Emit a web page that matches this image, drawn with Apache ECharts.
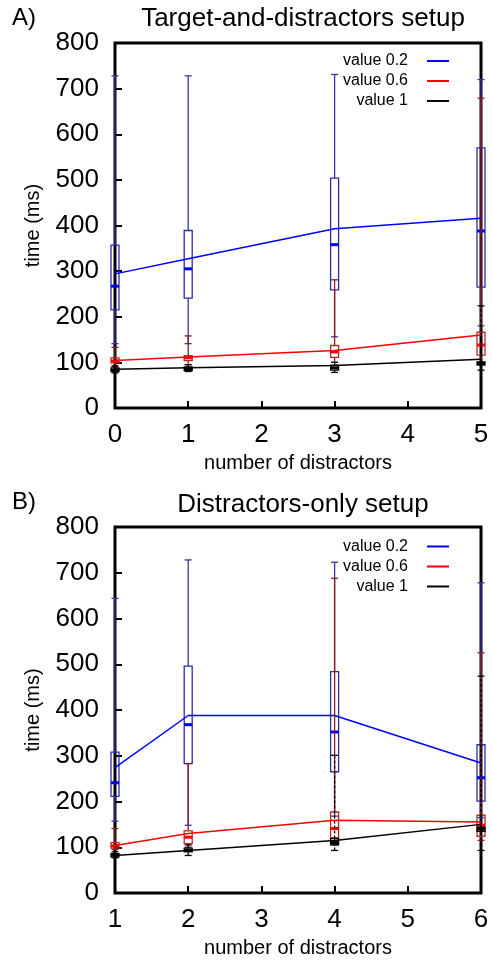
<!DOCTYPE html>
<html>
<head>
<meta charset="utf-8">
<script src="https://cdn.jsdelivr.net/npm/echarts@6/dist/echarts.min.js"></script>
<style>html,body{margin:0;padding:0;background:#fff;}#c{width:492px;height:961px;}</style>
</head>
<body>
<div id="c"></div>
<script>
// ---------- Data ----------
const xA = [0, 1, 3, 5];
const xB = [1, 2, 4, 6];
const seriesNames = ['value 0.2', 'value 0.6', 'value 1'];
const yTicks = [0, 100, 200, 300, 400, 500, 600, 700, 800];

// Panel A: Target-and-distractors setup
const blueA_low  = [141, 141, 156, 180];
const blueA_q1   = [215, 241, 259, 265];
const blueA_med  = [267, 305, 358, 388];
const blueA_q3   = [357, 389, 504, 570];
const blueA_high = [728, 728, 731, 720];
const blueA_mean = [294, 327, 393, 416];

const redA_low  = [92, 95, 100, 98];
const redA_q1   = [99, 104, 111, 116];
const redA_med  = [103, 110, 123, 138];
const redA_q3   = [110, 115, 137, 166];
const redA_high = [133, 158, 281, 679];
const redA_mean = [104, 112, 126, 160];

const blackA_low  = [77, 80, 78, 83];
const blackA_q1   = [80, 82, 83, 94];
const blackA_med  = [83, 86, 88, 98];
const blackA_q3   = [88, 90, 94, 101];
const blackA_high = [92, 95, 100, 224];
const blackA_mean = [85, 88, 93, 107];

// Panel B: Distractors-only setup
const blueB_low  = [157, 148, 168, 165];
const blueB_q1   = [211, 283, 265, 201];
const blueB_med  = [241, 368, 352, 252];
const blueB_q3   = [308, 496, 484, 324];
const blueB_high = [644, 728, 723, 678];
const blueB_mean = [274, 388, 388, 284];

const redB_low  = [95, 100, 105, 115];
const redB_q1   = [98, 108, 121, 124];
const redB_med  = [103, 122, 141, 148];
const redB_q3   = [110, 136, 177, 170];
const redB_high = [141, 283, 688, 525];
const redB_mean = [104, 130, 159, 155];

const blackB_low  = [77, 82, 93, 93];
const blackB_q1   = [79, 90, 105, 135];
const blackB_med  = [83, 93, 110, 140];
const blackB_q3   = [86, 98, 119, 144];
const blackB_high = [90, 105, 301, 474];
const blackB_mean = [82, 93, 115, 150];

// ---------- Helpers ----------
const FONT = 'Liberation Sans, Arial, sans-serif';
const styles = {
  blue:  { box: '#2b2bb0', whisker: '#3535a8', median: '#0000ff', mean: '#0000ff', dash: null },
  red:   { box: '#b42828', whisker: '#8e1c1c', median: '#ff0000', mean: '#ff0000', dash: null },
  black: { box: '#000000', whisker: '#000000', median: '#000000', mean: '#000000', dash: [3, 2] }
};

function boxRows(xs, low, q1, med, q3, high) {
  return xs.map((x, i) => [x, low[i], q1[i], med[i], q3[i], high[i]]);
}
function meanRows(xs, mean) {
  return xs.map((x, i) => [x, mean[i]]);
}

function makeRender(st) {
  return function (params, api) {
    const x = api.value(0);
    const pLow = api.coord([x, api.value(1)]);
    const pQ1 = api.coord([x, api.value(2)]);
    const pMed = api.coord([x, api.value(3)]);
    const pQ3 = api.coord([x, api.value(4)]);
    const pHigh = api.coord([x, api.value(5)]);
    const cx = pLow[0];
    const hw = 4, cw = 3.5;
    const wStyle = { stroke: st.whisker, lineWidth: 1.3, lineDash: st.dash };
    const cStyle = { stroke: st.whisker, lineWidth: 1.3 };
    return {
      type: 'group',
      children: [
        { type: 'line', shape: { x1: cx, y1: pLow[1], x2: cx, y2: pQ1[1] }, style: wStyle },
        { type: 'line', shape: { x1: cx, y1: pQ3[1], x2: cx, y2: pHigh[1] }, style: wStyle },
        { type: 'line', shape: { x1: cx - cw, y1: pLow[1], x2: cx + cw, y2: pLow[1] }, style: cStyle },
        { type: 'line', shape: { x1: cx - cw, y1: pHigh[1], x2: cx + cw, y2: pHigh[1] }, style: cStyle },
        { type: 'rect', shape: { x: cx - hw, y: pQ3[1], width: 2 * hw, height: pQ1[1] - pQ3[1] },
          style: { stroke: st.box, fill: 'none', lineWidth: 1.3 } },
        { type: 'line', shape: { x1: cx - hw, y1: pMed[1], x2: cx + hw, y2: pMed[1] },
          style: { stroke: st.median, lineWidth: 3 } }
      ]
    };
  };
}

function boxSeries(name, gi, st, rows, z) {
  return {
    type: 'custom', name: name, xAxisIndex: gi, yAxisIndex: gi,
    renderItem: makeRender(st), data: rows, clip: false, z: z,
    itemStyle: { color: st.median },
    encode: { x: 0, y: [1, 2, 3, 4, 5] }, silent: true
  };
}
function meanSeries(name, gi, st, rows) {
  return {
    type: 'line', name: name, xAxisIndex: gi, yAxisIndex: gi, data: rows,
    symbol: 'none', z: 10, clip: false, silent: true,
    lineStyle: { color: st.mean, width: 1.5 }, itemStyle: { color: st.mean }
  };
}

function xAxisCfg(gi, min, max) {
  return {
    type: 'value', gridIndex: gi, min: min, max: max, interval: 1,
    name: 'number of distractors', nameLocation: 'middle', nameGap: 45,
    nameTextStyle: { fontFamily: FONT, fontSize: 20, color: '#000' },
    axisLine: { show: false },
    axisTick: { show: true, inside: true, length: 7, lineStyle: { color: '#000', width: 2 } },
    axisLabel: { fontFamily: FONT, fontSize: 26, color: '#000', margin: 14 },
    splitLine: { show: false }
  };
}
function yAxisCfg(gi) {
  return {
    type: 'value', gridIndex: gi, min: yTicks[0], max: yTicks[yTicks.length - 1], interval: 100,
    name: 'time (ms)', nameLocation: 'middle', nameGap: 72, nameRotate: 90,
    nameTextStyle: { fontFamily: FONT, fontSize: 20, color: '#000' },
    axisLine: { show: false },
    axisTick: { show: true, inside: true, length: 7, lineStyle: { color: '#000', width: 2 } },
    axisLabel: { fontFamily: FONT, fontSize: 26, color: '#000', margin: 16 },
    splitLine: { show: false }
  };
}
function legendCfg(top) {
  return {
    orient: 'vertical', right: 43, top: top, align: 'right', padding: 0,
    icon: 'rect', itemWidth: 22, itemHeight: 2, itemGap: 1,
    selectedMode: false, data: seriesNames,
    textStyle: { fontFamily: FONT, fontSize: 16, color: '#000', lineHeight: 19,
      width: 80, align: 'right', padding: [0, 14, 0, 0] }
  };
}

const series = [
  boxSeries('boxA02', 0, styles.blue, boxRows(xA, blueA_low, blueA_q1, blueA_med, blueA_q3, blueA_high), 2),
  boxSeries('boxA06', 0, styles.red, boxRows(xA, redA_low, redA_q1, redA_med, redA_q3, redA_high), 3),
  boxSeries('boxA1', 0, styles.black, boxRows(xA, blackA_low, blackA_q1, blackA_med, blackA_q3, blackA_high), 4),
  meanSeries(seriesNames[0], 0, styles.blue, meanRows(xA, blueA_mean)),
  meanSeries(seriesNames[1], 0, styles.red, meanRows(xA, redA_mean)),
  meanSeries(seriesNames[2], 0, styles.black, meanRows(xA, blackA_mean)),
  boxSeries('boxB02', 1, styles.blue, boxRows(xB, blueB_low, blueB_q1, blueB_med, blueB_q3, blueB_high), 2),
  boxSeries('boxB06', 1, styles.red, boxRows(xB, redB_low, redB_q1, redB_med, redB_q3, redB_high), 3),
  boxSeries('boxB1', 1, styles.black, boxRows(xB, blackB_low, blackB_q1, blackB_med, blackB_q3, blackB_high), 4),
  meanSeries(seriesNames[0], 1, styles.blue, meanRows(xB, blueB_mean)),
  meanSeries(seriesNames[1], 1, styles.red, meanRows(xB, redB_mean)),
  meanSeries(seriesNames[2], 1, styles.black, meanRows(xB, blackB_mean))
];

const chart = echarts.init(document.getElementById('c'), null, { renderer: 'canvas' });
chart.setOption({
  backgroundColor: '#fff',
  animation: false,
  title: [
    { text: 'Target-and-distractors setup', left: 298, top: 1, textAlign: 'center',
      textStyle: { fontFamily: FONT, fontSize: 26, fontWeight: 'normal', color: '#000' } },
    { text: 'A)', left: 7, top: 1,
      textStyle: { fontFamily: FONT, fontSize: 24, fontWeight: 'normal', color: '#000' } },
    { text: 'Distractors-only setup', left: 298, top: 487, textAlign: 'center',
      textStyle: { fontFamily: FONT, fontSize: 26, fontWeight: 'normal', color: '#000' } },
    { text: 'B)', left: 7, top: 485,
      textStyle: { fontFamily: FONT, fontSize: 24, fontWeight: 'normal', color: '#000' } }
  ],
  legend: [legendCfg(51.5), legendCfg(537)],
  grid: [
    { left: 115, top: 43, width: 366, height: 365, show: true, borderColor: '#000', borderWidth: 3, backgroundColor: 'transparent', containLabel: false },
    { left: 115, top: 527, width: 366, height: 366, show: true, borderColor: '#000', borderWidth: 3, backgroundColor: 'transparent', containLabel: false }
  ],
  xAxis: [xAxisCfg(0, xA[0], xA[xA.length - 1]), xAxisCfg(1, xB[0], xB[xB.length - 1])],
  yAxis: [yAxisCfg(0), yAxisCfg(1)],
  series: series
});
</script>
</body>
</html>
